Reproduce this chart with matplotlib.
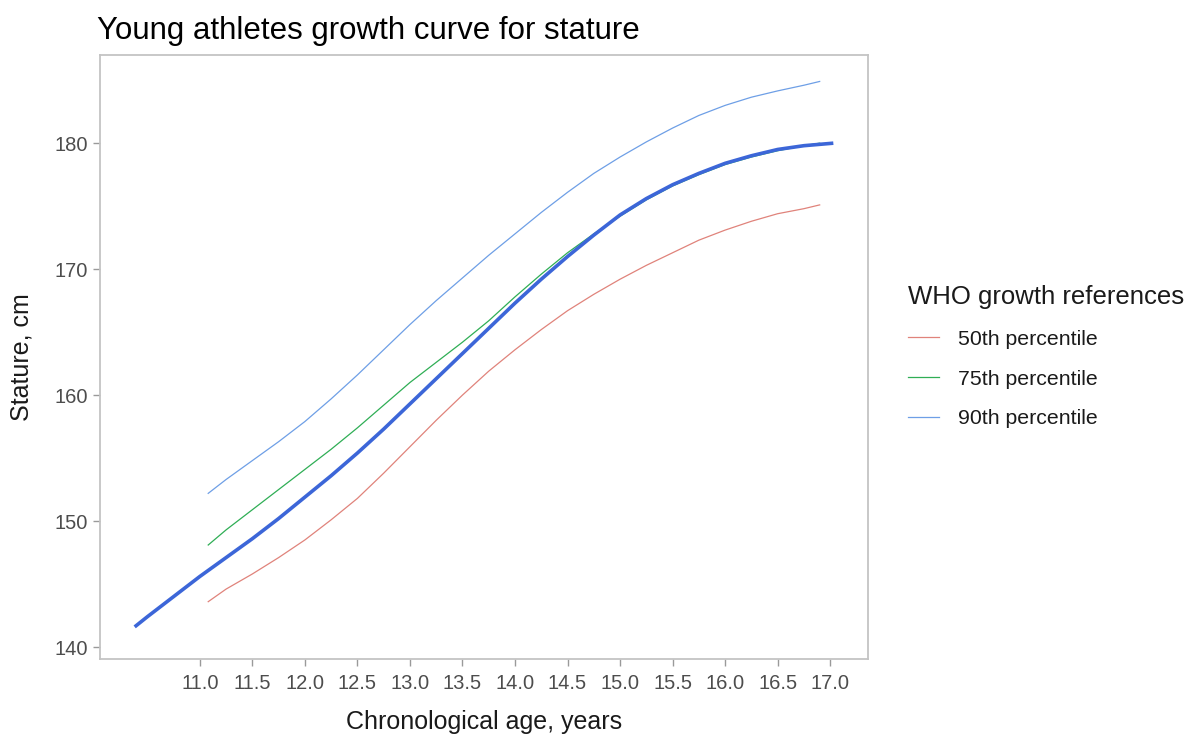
import matplotlib
matplotlib.use("Agg")
import matplotlib.pyplot as plt

plt.rcParams['font.family'] = ['Liberation Sans', 'DejaVu Sans']

# WHO reference percentiles (age in years, stature in cm)
who_age = [11.08, 11.25, 11.5, 11.75, 12.0, 12.25, 12.5, 12.75, 13.0, 13.25,
           13.5, 13.75, 14.0, 14.25, 14.5, 14.75, 15.0, 15.25, 15.5, 15.75,
           16.0, 16.25, 16.5, 16.75, 16.9]
p50 = [143.6, 144.6, 145.8, 147.1, 148.5, 150.1, 151.8, 153.8, 155.9, 158.0,
       160.0, 161.9, 163.6, 165.2, 166.7, 168.0, 169.2, 170.3, 171.3, 172.3,
       173.1, 173.8, 174.4, 174.8, 175.1]
p75 = [148.1, 149.3, 150.9, 152.5, 154.1, 155.7, 157.4, 159.2, 161.0, 162.6,
       164.2, 165.9, 167.8, 169.6, 171.3, 172.8, 174.2, 175.5, 176.6, 177.5,
       178.3, 178.9, 179.4, 179.8, 180.0]
p90 = [152.2, 153.3, 154.8, 156.3, 157.9, 159.7, 161.6, 163.6, 165.6, 167.5,
       169.3, 171.1, 172.8, 174.5, 176.1, 177.6, 178.9, 180.1, 181.2, 182.2,
       183.0, 183.65, 184.15, 184.6, 184.9]

# Smoothed growth curve of the athletes
ath_age = [10.38, 10.5, 10.75, 11.0, 11.25, 11.5, 11.75, 12.0, 12.25, 12.5,
           12.75, 13.0, 13.25, 13.5, 13.75, 14.0, 14.25, 14.5, 14.75, 15.0,
           15.25, 15.5, 15.75, 16.0, 16.25, 16.5, 16.75, 17.03]
ath_stature = [141.6, 142.4, 144.0, 145.6, 147.1, 148.6, 150.2, 151.9, 153.6, 155.4,
               157.3, 159.3, 161.3, 163.3, 165.3, 167.3, 169.2, 171.0, 172.7, 174.3,
               175.6, 176.7, 177.6, 178.4, 179.0, 179.5, 179.8, 180.0]

series_labels = ["50th percentile", "75th percentile", "90th percentile"]
series_colors = ["#E0837B", "#2FAE55", "#6E9FE6"]

x_ticks = [11.0, 11.5, 12.0, 12.5, 13.0, 13.5, 14.0, 14.5, 15.0, 15.5, 16.0, 16.5, 17.0]
y_ticks = [140, 150, 160, 170, 180]

fig = plt.figure(figsize=(11.94, 7.35), dpi=100)
ax = fig.add_axes([100 / 1194, 1 - 659 / 735, 768 / 1194, 604 / 735])

handles = []
for vals, lab, col in zip([p50, p75, p90], series_labels, series_colors):
    h, = ax.plot(who_age, vals, color=col, linewidth=0.9, label=lab)
    handles.append(h)

ax.plot(ath_age, ath_stature, color="#3C66D8", linewidth=2.6,
        solid_capstyle='butt', solid_joinstyle='round')

ax.set_xlim(10.05, 17.36)
ax.set_ylim(139.05, 187.0)
ax.set_xticks(x_ticks)
ax.set_xticklabels([f"{t:.1f}" for t in x_ticks])
ax.set_yticks(y_ticks)
ax.set_yticklabels([str(t) for t in y_ticks])

for s in ax.spines.values():
    s.set_color("#c4c4c4")
    s.set_linewidth(1.3)
ax.tick_params(axis='both', colors="#9a9a9a", length=5, width=1.0,
               labelsize=14.5, labelcolor="#4d4d4d")
ax.tick_params(axis='x', pad=6)
ax.tick_params(axis='y', pad=4)

ax.set_xlabel("Chronological age, years", fontsize=18, color="#1a1a1a", labelpad=12)
ax.set_ylabel("Stature, cm", fontsize=18, color="#1a1a1a", labelpad=15)
fig.text(97 / 1194, 1 - 31 / 735, "Young athletes growth curve for stature",
         fontsize=22.5, color="#000000", ha='left', va='center')

leg = fig.legend(handles=handles, labels=series_labels, loc='upper left',
                 bbox_to_anchor=(908 / 1194, 1 - 285 / 735), frameon=False,
                 borderpad=0, borderaxespad=0,
                 title="WHO growth references", title_fontsize=18.5, fontsize=15.3,
                 handlelength=1.45, handletextpad=0.9, labelspacing=0.98,
                 alignment='left')
for t in leg.get_texts():
    t.set_color("#1a1a1a")
leg.get_title().set_color("#1a1a1a")

fig.savefig("out.png", dpi=100, facecolor="white")
